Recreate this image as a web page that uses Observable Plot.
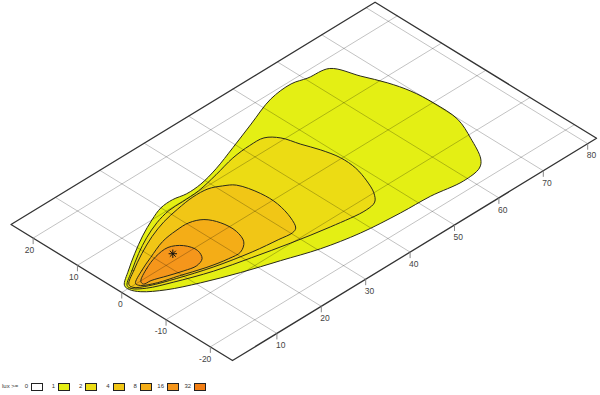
<!DOCTYPE html>
<html><head><meta charset="utf-8">
<script src="https://cdn.jsdelivr.net/npm/d3@7"></script>
<script src="https://cdn.jsdelivr.net/npm/@observablehq/plot@0.6"></script>
<style>
body{margin:0;background:#fff;width:600px;height:395px;overflow:hidden;font-family:"Liberation Sans",Arial,sans-serif;}
#chart svg{display:block;}
#legend{position:relative;width:600px;height:20px;font-size:6px;color:#333;}
#legend .title{position:absolute;left:2px;top:8px;line-height:7px;}
#legend .entry{position:absolute;top:8px;height:7px;display:flex;align-items:center;justify-content:flex-end;width:27px;}
#legend .entry span{margin-right:3px;line-height:7px;}
#legend .entry i{display:block;width:10px;height:6px;border:1px solid #222;}
</style></head>
<body><div id="chart"></div><div id="legend"></div>
<script>
// ---- data ----
const distanceTicks = [10, 20, 30, 40, 50, 60, 70, 80];
const lateralTicks = [-20, -10, 0, 10, 20];
const distanceDomain = [0, 82];
const lateralDomain = [-25, 25];
const luxLevels = [0, 1, 2, 4, 8, 16, 32];
const luxColors = ["#ffffff", "#e4ef14", "#ecdc14", "#f1c616", "#f4ad17", "#f5961b", "#f27e14"];
// isolux contours as [distance, lateral] points
const contour1 = [[1.6,1.0],[4.8,3.3],[8.6,5.7],[12.8,8.1],[16.8,10.0],[20.0,11.2],[22.8,11.4],[25.5,10.9],[28.9,11.1],[33.4,12.2],[39.2,14.2],[45.6,16.5],[52.4,18.9],[57.5,19.4],[60.5,18.6],[64.7,17.9],[66.8,13.0],[68.6,8.7],[69.7,4.6],[70.1,-0.2],[69.8,-5.9],[67.8,-10.8],[65.1,-15.8],[63.3,-17.3],[59.1,-17.9],[52.6,-17.0],[46.1,-16.7],[37.9,-15.9],[30.5,-14.3],[23.8,-12.0],[17.1,-9.7],[10.7,-7.1],[5.5,-4.5],[2.3,-2.0],[1.4,-0.3]];
const contour2 = [[1.9,0.7],[5.2,2.9],[9.1,5.3],[12.9,7.3],[16.8,8.9],[20.4,9.8],[23.6,9.9],[27.4,10.1],[32.3,11.1],[37.3,12.3],[41.5,12.7],[44.5,12.5],[46.4,10.6],[47.5,7.2],[48.7,3.9],[49.5,0.2],[49.3,-3.4],[48.2,-7.0],[46.8,-10.0],[45.2,-11.8],[42.8,-12.3],[35.7,-11.4],[28.2,-9.9],[21.1,-8.2],[14.3,-6.4],[7.7,-3.9],[3.6,-2.0],[1.8,-0.3]];
const contour4 = [[2.3,0.7],[5.4,2.7],[9.4,4.9],[13.7,6.9],[17.8,8.3],[21.7,9.1],[25.6,9.6],[28.8,9.4],[31.0,8.3],[32.7,6.9],[33.9,2.6],[33.9,-1.2],[32.8,-5.3],[31.5,-7.7],[30.3,-8.2],[27.5,-7.9],[22.2,-7.2],[15.0,-5.6],[8.8,-3.6],[4.3,-1.8],[2.2,-0.3]];
const contour8 = [[3.2,0.1],[6.3,1.8],[9.7,3.2],[14.0,4.8],[17.5,5.3],[20.4,5.3],[22.7,4.2],[24.0,1.7],[24.2,-1.6],[23.1,-4.4],[20.9,-5.9],[18.3,-5.8],[14.1,-4.9],[9.6,-3.4],[5.8,-2.2],[3.4,-0.8]];
const contour16 = [[4.2,-0.1],[7.2,1.6],[10.5,2.8],[13.5,3.1],[15.6,1.7],[16.3,-0.8],[15.3,-2.8],[13.4,-3.5],[11.0,-3.0],[8.3,-2.1],[5.5,-1.1],[4.0,-0.9]];
const contourLevels = [1, 2, 4, 8, 16];
const maxPoint = [[12.9, 1.4]];

// ---- oblique plane projection (layout) ----
const plane = d3.geoTransform({
  point(d, l) {
    const L = l - lateralDomain[0];
    this.stream.point(232 + 4.44 * d - 4.43 * L, 360 - 2.71 * d - 2.72 * L);
  }
});

const grid = {type: "MultiLineString", coordinates: [
  ...distanceTicks.map(d => [[d, lateralDomain[0]], [d, lateralDomain[1]]]),
  ...lateralTicks.map(l => [[distanceDomain[0], l], [distanceDomain[1], l]])
]};
const border = {type: "LineString", coordinates: [
  [distanceDomain[0], lateralDomain[0]], [distanceDomain[1], lateralDomain[0]],
  [distanceDomain[1], lateralDomain[1]], [distanceDomain[0], lateralDomain[1]],
  [distanceDomain[0], lateralDomain[0]]
]};
const tickSymbol = {draw(ctx) { ctx.moveTo(0, 0); ctx.lineTo(0, 6); }};
const starSymbol = {draw(ctx) {
  const r = 4.2, q = r * Math.SQRT1_2;
  ctx.moveTo(-r, 0); ctx.lineTo(r, 0); ctx.moveTo(0, -r); ctx.lineTo(0, r);
  ctx.moveTo(-q, -q); ctx.lineTo(q, q); ctx.moveTo(-q, q); ctx.lineTo(q, -q);
}};

const contourMarks = [contour1, contour2, contour4, contour8, contour16].map((c, i) =>
  Plot.line(c, {x: p => p[0], y: p => p[1], fill: () => contourLevels[i],
    curve: "catmull-rom-closed", stroke: "#2a2a1a", strokeWidth: 1})
);

const chart = Plot.plot({
  width: 600, height: 375, margin: 0,
  projection: plane,
  color: {type: "ordinal", domain: luxLevels, range: luxColors},
  style: {background: "#fff", fontFamily: "Liberation Sans, Arial, sans-serif", fontSize: "8.5px", color: "#444"},
  marks: [
    ...contourMarks,
    Plot.geo([grid], {stroke: "#000", strokeOpacity: 0.24, strokeWidth: 1}),
    Plot.geo([border], {stroke: "#333", strokeWidth: 1.3}),
    Plot.dot(distanceTicks, {x: d => d, y: () => lateralDomain[0], symbol: tickSymbol, stroke: "#888", fill: "none", strokeWidth: 1}),
    Plot.dot(lateralTicks, {x: () => distanceDomain[0], y: l => l, symbol: tickSymbol, stroke: "#888", fill: "none", strokeWidth: 1}),
    Plot.text(distanceTicks, {x: d => d, y: () => lateralDomain[0], text: d => String(d), dy: 12, dx: -1, textAnchor: "start", fill: "#444"}),
    Plot.text(lateralTicks, {x: () => distanceDomain[0], y: l => l, text: l => String(l), dy: 12, dx: 1, textAnchor: "end", fill: "#444"}),
    Plot.dot(maxPoint, {x: p => p[0], y: p => p[1], symbol: starSymbol, stroke: "#111", fill: "none", strokeWidth: 1})
  ]
});
document.getElementById("chart").appendChild(chart);

// ---- legend ----
const legend = document.getElementById("legend");
const t = document.createElement("div"); t.className = "title"; t.textContent = "lux >="; legend.appendChild(t);
luxLevels.forEach((v, i) => {
  const e = document.createElement("div"); e.className = "entry";
  e.style.left = (16 + i * 27.2) + "px";
  const s = document.createElement("span"); s.textContent = String(v);
  const b = document.createElement("i"); b.style.background = luxColors[i];
  e.appendChild(s); e.appendChild(b); legend.appendChild(e);
});
</script></body></html>
